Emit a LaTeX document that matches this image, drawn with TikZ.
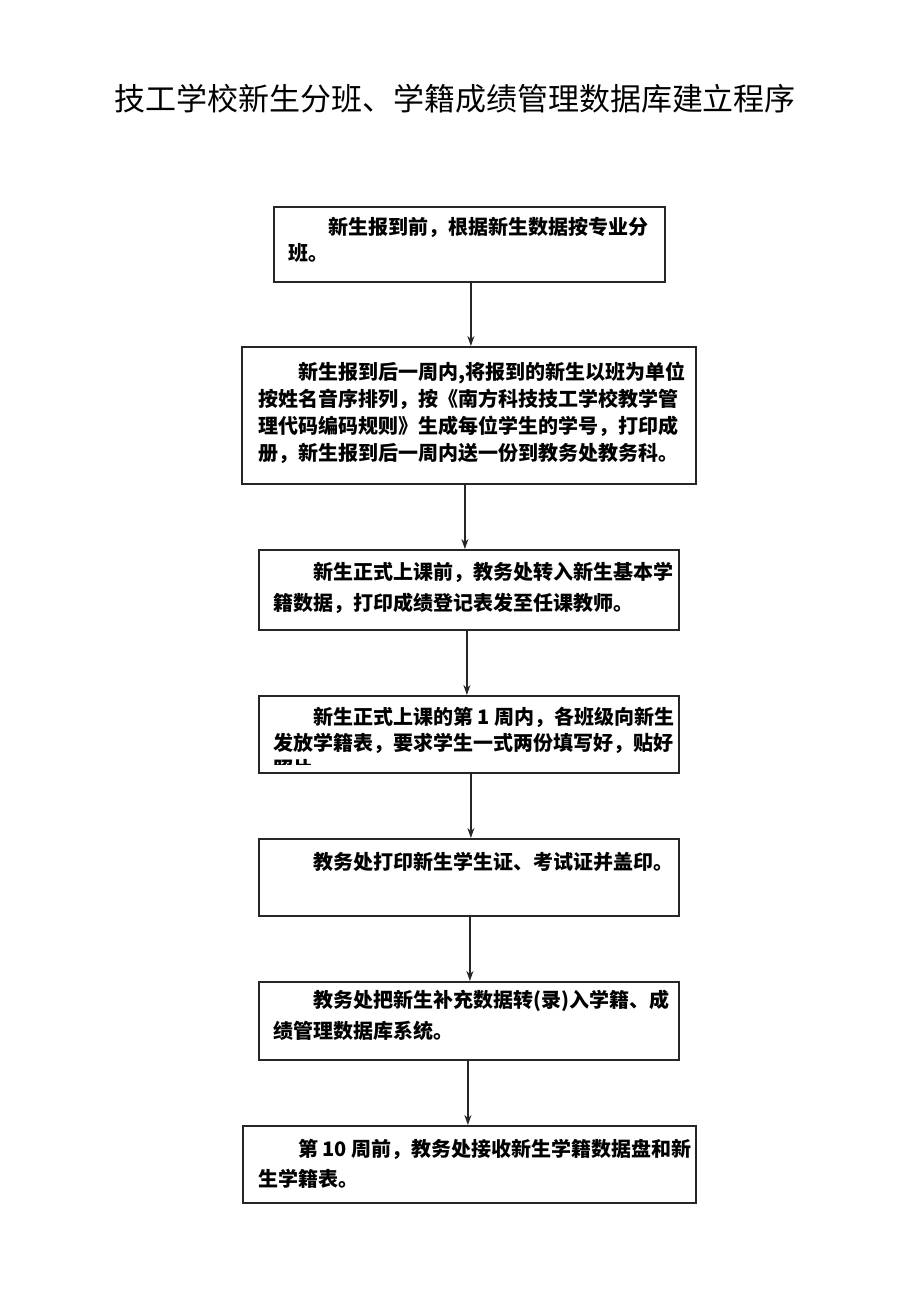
\documentclass[tikz,border=0pt]{standalone}
\usepackage{fontspec}
\newfontfamily\cjk{Noto Sans CJK SC}
\usetikzlibrary{arrows.meta}
\tikzset{
  box/.style={draw=black!85, line width=1.8pt, inner sep=0pt, anchor=north west},
  txt/.style={anchor=base west, inner sep=0pt, font=\cjk\bfseries\fontsize{20}{27}\selectfont},
  ttl/.style={anchor=base, inner sep=0pt, font=\cjk\fontsize{31}{31}\selectfont},
  arr/.style={draw=black!85, line width=1.8pt, -{Stealth[length=10pt,width=7pt]}}
}
\newcommand{\lines}[2]{\parbox[t]{440pt}{\fontsize{20}{#1}\selectfont #2}}
\begin{document}
\begin{tikzpicture}[x=1pt,y=-1pt]
\useasboundingbox (0,0) rectangle (920,1310);
\fill[white] (0,0) rectangle (920,1310);
\node[ttl] (title) at (455,110) {技工学校新生分班、学籍成绩管理数据库建立程序};

\node[box, minimum width=391pt, minimum height=75pt] (b1) at (273,206) {};
\node[txt] (t1) at (288,234.5) {\lines{26}{\hspace*{2em}新生报到前，根据新生数据按专业分\\班。}};

\node[box, minimum width=454pt, minimum height=137pt] (b2) at (241,346) {};
\node[txt] (t2) at (258,379.5) {\lines{27}{\hspace*{2em}新生报到后一周内,将报到的新生以班为单位\\按姓名音序排列，按《南方科技技工学校教学管\\理代码编码规则》生成每位学生的学号，打印成\\册，新生报到后一周内送一份到教务处教务科。}};

\node[box, minimum width=420pt, minimum height=80pt] (b3) at (258,549) {};
\node[txt] (t3) at (273,579) {\lines{31}{\hspace*{2em}新生正式上课前，教务处转入新生基本学\\籍数据，打印成绩登记表发至任课教师。}};

\node[box, minimum width=420pt, minimum height=77pt] (b4) at (258,695) {};
\begin{scope}
\clip (259,696) rectangle (677,764);
\node[txt] (t4) at (273,724.5) {\lines{26}{\hspace*{2em}新生正式上课的第 1 周内，各班级向新生\\发放学籍表，要求学生一式两份填写好，贴好\\照片。}};
\end{scope}

\node[box, minimum width=420pt, minimum height=77pt] (b5) at (258,838) {};
\node[txt] (t5) at (273,869.5) {\lines{27}{\hspace*{2em}教务处打印新生学生证、考试证并盖印。}};

\node[box, minimum width=420pt, minimum height=78pt] (b6) at (258,981) {};
\node[txt] (t6) at (273,1007) {\lines{31}{\hspace*{2em}教务处把新生补充数据转(录)入学籍、成\\绩管理数据库系统。}};

\node[box, minimum width=453pt, minimum height=77pt] (b7) at (242,1125) {};
\node[txt] (t7) at (258,1156.5) {\lines{30}{\hspace*{2em}第 10 周前，教务处接收新生学籍数据盘和新\\生学籍表。}};

\draw[arr] ([xshift=1.5pt]b1.south) -- ([xshift=1.5pt]b1.south |- b2.north);
\draw[arr] ([xshift=-4pt]b2.south) -- ([xshift=-4pt]b2.south |- b3.north);
\draw[arr] ([xshift=-2pt]b3.south) -- ([xshift=-2pt]b3.south |- b4.north);
\draw[arr] ([xshift=2pt]b4.south) -- ([xshift=2pt]b4.south |- b5.north);
\draw[arr] ([xshift=1pt]b5.south) -- ([xshift=1pt]b5.south |- b6.north);
\draw[arr] ([xshift=-1pt]b6.south) -- ([xshift=-1pt]b6.south |- b7.north);
\end{tikzpicture}
\end{document}
